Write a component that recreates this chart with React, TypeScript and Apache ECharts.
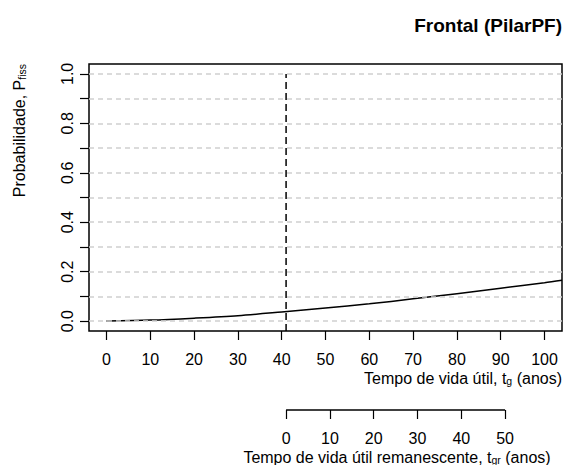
import React, { useEffect, useRef } from "react";
import * as echarts from "echarts";

const tValues = [0, 10, 20, 30, 40, 50, 60, 70, 80, 90, 100, 104];
const pValues = [0, 0.004, 0.012, 0.022, 0.037, 0.053, 0.07, 0.09, 0.111, 0.133, 0.155, 0.165];
const xTicks = [0, 10, 20, 30, 40, 50, 60, 70, 80, 90, 100];
const yTicks = [0, 0.1, 0.2, 0.3, 0.4, 0.5, 0.6, 0.7, 0.8, 0.9, 1.0];
const yLabels = [0, 0.2, 0.4, 0.6, 0.8, 1.0];
const gridLines = [0, 0.1, 0.2, 0.3, 0.4, 0.5, 0.6, 0.7, 0.8, 0.9, 1.0];
const tCurrent = 41;
const vLineY = [-0.04, 1.0];
const trTicks = [0, 10, 20, 30, 40, 50];

const FONT = "Liberation Sans, Arial, sans-serif";
const FS = 16;

export default function App() {
  const ref = useRef<HTMLDivElement>(null);
  useEffect(() => {
    if (!ref.current) return;
    const chart = echarts.init(ref.current, undefined, { renderer: "svg" });
    const xMin = -4, xMax = 104;
    const richSub = {
      a: { fontSize: FS, fontFamily: FONT, lineHeight: 19, verticalAlign: "bottom" },
      s: { fontSize: 10.5, fontFamily: FONT, lineHeight: 10, verticalAlign: "bottom", padding: [9, 0, 0, 0] },
    };
    const option: any = {
      animation: false,
      backgroundColor: "#ffffff",
      textStyle: { fontFamily: FONT },
      grid: [
        { left: 89, top: 64, width: 473, height: 267, show: true, borderColor: "#000", borderWidth: 1.5, backgroundColor: "transparent", containLabel: false, outerBoundsMode: "none" },
        { left: 89, top: 409, width: 473, height: 1, show: false, containLabel: false, outerBoundsMode: "none" },
      ],
      xAxis: [
        {
          type: "value", gridIndex: 0, min: xMin, max: xMax, position: "bottom",
          axisLine: { show: false, onZero: false },
          axisTick: { show: true, length: 9, customValues: xTicks, lineStyle: { color: "#000", width: 1.2 } },
          axisLabel: { customValues: xTicks, color: "#000", fontSize: FS, margin: 20, fontFamily: FONT },
          splitLine: { show: false },
        },
        {
          type: "value", gridIndex: 1, min: xMin - tCurrent, max: xMax - tCurrent, position: "bottom",
          axisLine: { show: false, onZero: false },
          axisTick: { show: true, length: 9, customValues: trTicks, lineStyle: { color: "#000", width: 1.2 } },
          axisLabel: { customValues: trTicks, color: "#000", fontSize: FS, margin: 20, fontFamily: FONT },
          splitLine: { show: false },
        },
      ],
      yAxis: [
        {
          type: "value", gridIndex: 0, min: -0.04, max: 1.04, position: "left",
          axisLine: { show: false, onZero: false },
          axisTick: { show: true, inside: false, length: 9, customValues: yTicks, lineStyle: { color: "#000", width: 1.2 } },
          axisLabel: { customValues: yLabels, rotate: 90, color: "#000", fontSize: FS, margin: 14, fontFamily: FONT, formatter: (v: number) => v.toFixed(1) },
          splitLine: { show: false },
        },
        { type: "value", gridIndex: 1, min: 0, max: 1, show: false, axisLine: { onZero: false } },
      ],
      graphic: [
        { type: "text", right: 3, top: 16, style: { text: "Frontal (PilarPF)", font: `bold 19px ${FONT}`, fill: "#000" } },
        {
          type: "text", x: 562, y: 377,
          style: { text: "{a|Tempo de vida útil, t}{s|g}{a| (anos)}", align: "right", verticalAlign: "middle", fill: "#000", rich: richSub },
        },
        {
          type: "text", x: 397, y: 456,
          style: { text: "{a|Tempo de vida útil remanescente, t}{s|gr}{a| (anos)}", align: "center", verticalAlign: "middle", fill: "#000", rich: richSub },
        },
        {
          type: "text", x: 18, y: 64, rotation: Math.PI / 2,
          style: { text: "{a|Probabilidade, P}{s|fiss}", align: "right", verticalAlign: "middle", fill: "#000", rich: richSub },
        },
      ],
      series: [
        {
          type: "line", xAxisIndex: 0, yAxisIndex: 0, data: [], silent: true, z: 1,
          markLine: {
            silent: true, symbol: "none", label: { show: false },
            lineStyle: { color: "#cfcfcf", type: [5, 4], width: 1.5 },
            data: gridLines.map((v) => ({ yAxis: v })),
          },
        },
        {
          type: "line", xAxisIndex: 0, yAxisIndex: 0, showSymbol: false, symbol: "none", z: 3,
          data: tValues.map((t, i) => [t, pValues[i]]),
          smooth: 0.3,
          lineStyle: { color: "#000", width: 1.5 },
        },
        {
          type: "line", xAxisIndex: 0, yAxisIndex: 0, showSymbol: false, symbol: "none", z: 3,
          data: vLineY.map((y) => [tCurrent, y]),
          lineStyle: { color: "#000", width: 1.5, type: [7, 4] },
        },
        {
          type: "line", xAxisIndex: 1, yAxisIndex: 1, showSymbol: false, symbol: "none", clip: false,
          data: [[trTicks[0], 0], [trTicks[trTicks.length - 1], 0]],
          lineStyle: { color: "#000", width: 1.5 },
        },
      ],
    };
    chart.setOption(option);
    return () => chart.dispose();
  }, []);
  return <div ref={ref} style={{ position: "fixed", left: 0, top: 0, width: 565, height: 465 }} />;
}
